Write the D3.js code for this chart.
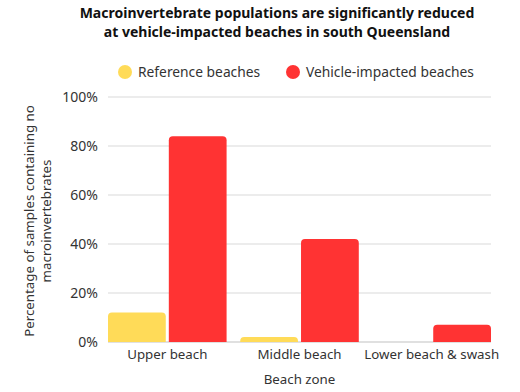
<!DOCTYPE html>
<html>
<head>
<meta charset="utf-8">
<script src="https://cdn.jsdelivr.net/npm/d3@7"></script>
<style>
  html, body { margin: 0; padding: 0; background: #fff; }
  svg { display: block; font-family: "Noto Sans", "Open Sans", sans-serif; }
</style>
</head>
<body>
<svg id="chart" width="520" height="392"></svg>
<script>
const categories = ["Upper beach", "Middle beach", "Lower beach & swash"];
const seriesNames = ["Reference beaches", "Vehicle-impacted beaches"];
const referenceValues = [12, 2, 0];
const vehicleValues = [84, 42, 7];
const yTicks = [0, 20, 40, 60, 80, 100];
const colors = ["#FFDB58", "#FF3333"];

const svg = d3.select("#chart");
const margin = {left: 108, right: 29, top: 97, bottom: 50};
const W = 520, H = 392;
const x0 = d3.scaleBand().domain(categories).range([margin.left, W - margin.right]).paddingInner(0.103).paddingOuter(0);
const x1 = d3.scaleBand().domain(seriesNames).range([0, x0.bandwidth()]).paddingInner(0.05);
const y = d3.scaleLinear().domain([0, 100]).range([H - margin.bottom, margin.top]);

// title
const title = svg.append("text").attr("text-anchor", "middle").attr("font-weight", "bold")
  .attr("font-size", 14).attr("fill", "#111");
title.append("tspan").attr("x", 277).attr("y", 18).text("Macroinvertebrate populations are significantly reduced");
title.append("tspan").attr("x", 277).attr("y", 37).text("at vehicle-impacted beaches in south Queensland");

// legend
const legendX = [125, 293];
seriesNames.forEach((s, i) => {
  svg.append("circle").attr("cx", legendX[i]).attr("cy", 72).attr("r", 7).attr("fill", colors[i]);
  svg.append("text").attr("x", legendX[i] + 13).attr("y", 76.5).attr("font-size", 13.8).attr("fill", "#333").text(s);
});

// grid
svg.append("g").selectAll("line").data(yTicks).join("line")
  .attr("x1", margin.left).attr("x2", W - margin.right)
  .attr("y1", d => y(d)).attr("y2", d => y(d))
  .attr("stroke", d => d === 0 ? "#d6d6d6" : "#e6e6e6").attr("stroke-width", 1.5);

// y axis
const yAxis = d3.axisLeft(y).tickValues(yTicks).tickFormat(d => d + "%").tickSize(0).tickPadding(10);
const gy = svg.append("g").attr("transform", `translate(${margin.left},0)`).call(yAxis);
gy.select(".domain").remove();
gy.selectAll("text").attr("font-size", 14).attr("fill", "#333").attr("font-family", "Noto Sans, Open Sans, sans-serif");

// bars
function topRounded(x, yTop, w, h, r) {
  if (h <= 0) return "";
  r = Math.min(r, h, w / 2);
  return `M${x},${yTop + h}V${yTop + r}Q${x},${yTop} ${x + r},${yTop}H${x + w - r}Q${x + w},${yTop} ${x + w},${yTop + r}V${yTop + h}Z`;
}
const data = categories.map((c, i) => ({cat: c, vals: [referenceValues[i], vehicleValues[i]]}));
const groups = svg.append("g").selectAll("g").data(data).join("g")
  .attr("transform", d => `translate(${x0(d.cat)},0)`);
groups.selectAll("path").data(d => d.vals.map((v, i) => ({v, s: seriesNames[i], i}))).join("path")
  .attr("d", d => topRounded(x1(d.s), y(d.v), x1.bandwidth(), y(0) - y(d.v), 4))
  .attr("fill", d => colors[d.i]);

// x axis
const xAxis = d3.axisBottom(x0).tickSize(0).tickPadding(8);
const gx = svg.append("g").attr("transform", `translate(0,${y(0)})`).call(xAxis);
gx.select(".domain").remove();
gx.selectAll("text").attr("font-size", 13.3).attr("fill", "#333").attr("font-family", "Noto Sans, Open Sans, sans-serif");

// axis titles
svg.append("text").attr("x", (margin.left + W - margin.right) / 2).attr("y", 384)
  .attr("text-anchor", "middle").attr("font-size", 13.3).attr("fill", "#333").text("Beach zone");
const yl = svg.append("text").attr("text-anchor", "middle").attr("font-size", 13.3).attr("fill", "#333")
  .attr("transform", "translate(0,221) rotate(-90)");
yl.append("tspan").attr("x", 0).attr("y", 34).text("Percentage of samples containing no");
yl.append("tspan").attr("x", 0).attr("y", 51).text("macroinvertebrates");
</script>
</body>
</html>
